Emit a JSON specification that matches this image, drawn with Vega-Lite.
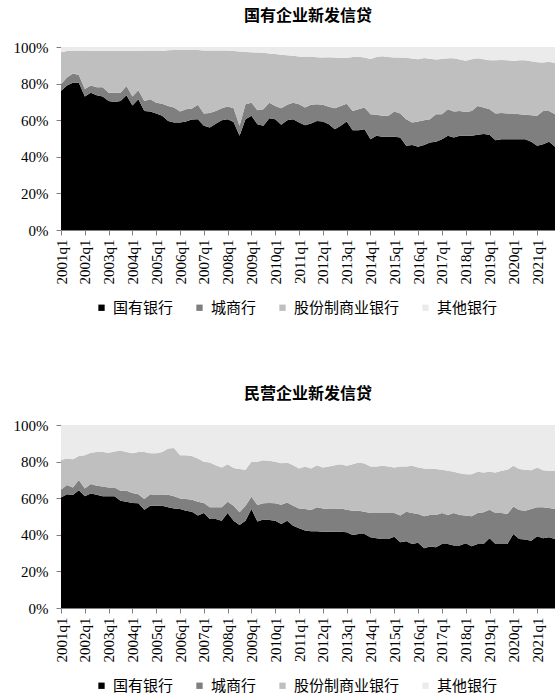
{
  "$schema": "https://vega.github.io/schema/vega-lite/v6.json",
  "padding": {"left": 13, "top": 8, "right": 0, "bottom": 0},
  "spacing": 70,
  "config": {
    "view": {"stroke": null},
    "font": "Liberation Serif",
    "axis": {"labelFont": "Liberation Serif", "labelFontSize": 15, "labelColor": "#000000", "domainColor": "#7f7f7f", "tickColor": "#7f7f7f", "tickSize": 5, "grid": false, "title": null}
  },
  "datasets": {
    "soe": [
      {"q":"2001q1","国有银行":76,"城商行":3.6,"股份制商业银行":17.4,"其他银行":3},
      {"q":"2001q2","国有银行":79,"城商行":4.3,"股份制商业银行":14.5,"其他银行":2.2},
      {"q":"2001q3","国有银行":80.5,"城商行":5,"股份制商业银行":12.3,"其他银行":2.2},
      {"q":"2001q4","国有银行":80.5,"城商行":4.2,"股份制商业银行":13.1,"其他银行":2.2},
      {"q":"2002q1","国有银行":73,"城商行":4,"股份制商业银行":20.8,"其他银行":2.2},
      {"q":"2002q2","国有银行":75,"城商行":4,"股份制商业银行":18.8,"其他银行":2.2},
      {"q":"2002q3","国有银行":73.6,"城商行":4.4,"股份制商业银行":20,"其他银行":2},
      {"q":"2002q4","国有银行":73,"城商行":5,"股份制商业银行":20,"其他银行":2},
      {"q":"2003q1","国有银行":70.5,"城商行":4.5,"股份制商业银行":23,"其他银行":2},
      {"q":"2003q2","国有银行":70,"城商行":5,"股份制商业银行":23,"其他银行":2},
      {"q":"2003q3","国有银行":70.5,"城商行":4.5,"股份制商业银行":23,"其他银行":2},
      {"q":"2003q4","国有银行":73.6,"城商行":5.1,"股份制商业银行":19.3,"其他银行":2},
      {"q":"2004q1","国有银行":68,"城商行":5,"股份制商业银行":25,"其他银行":2},
      {"q":"2004q2","国有银行":71.5,"城商行":4.9,"股份制商业银行":21.4,"其他银行":2.2},
      {"q":"2004q3","国有银行":65,"城商行":5.5,"股份制商业银行":27.3,"其他银行":2.2},
      {"q":"2004q4","国有银行":64.7,"城商行":6.8,"股份制商业银行":26.3,"其他银行":2.2},
      {"q":"2005q1","国有银行":63.6,"城商行":6,"股份制商业银行":28.2,"其他银行":2.2},
      {"q":"2005q2","国有银行":62.4,"城商行":6.6,"股份制商业银行":28.8,"其他银行":2.2},
      {"q":"2005q3","国有银行":59.6,"城商行":8.2,"股份制商业银行":30.4,"其他银行":1.8},
      {"q":"2005q4","国有银行":58.7,"城商行":8.3,"股份制商业银行":31.3,"其他银行":1.7},
      {"q":"2006q1","国有银行":58.7,"城商行":6,"股份制商业银行":33.6,"其他银行":1.7},
      {"q":"2006q2","国有银行":59.3,"城商行":6.7,"股份制商业银行":32.3,"其他银行":1.7},
      {"q":"2006q3","国有银行":60.4,"城商行":6,"股份制商业银行":31.9,"其他银行":1.7},
      {"q":"2006q4","国有银行":60.5,"城商行":7.9,"股份制商业银行":29.9,"其他银行":1.7},
      {"q":"2007q1","国有银行":57,"城商行":6.6,"股份制商业银行":34.5,"其他银行":1.9},
      {"q":"2007q2","国有银行":56,"城商行":8,"股份制商业银行":34.1,"其他银行":1.9},
      {"q":"2007q3","国有银行":58,"城商行":7,"股份制商业银行":33.1,"其他银行":1.9},
      {"q":"2007q4","国有银行":60,"城商行":6.5,"股份制商业银行":31.6,"其他银行":1.9},
      {"q":"2008q1","国有银行":60.5,"城商行":7,"股份制商业银行":30.6,"其他银行":1.9},
      {"q":"2008q2","国有银行":59,"城商行":7.5,"股份制商业银行":31.3,"其他银行":2.2},
      {"q":"2008q3","国有银行":51.5,"城商行":5.5,"股份制商业银行":40.5,"其他银行":2.5},
      {"q":"2008q4","国有银行":60.5,"城商行":8.2,"股份制商业银行":28.6,"其他银行":2.7},
      {"q":"2009q1","国有银行":62.4,"城商行":7.2,"股份制商业银行":27.5,"其他银行":2.9},
      {"q":"2009q2","国有银行":57.8,"城商行":7.7,"股份制商业银行":31.5,"其他银行":3},
      {"q":"2009q3","国有银行":57,"城商行":9,"股份制商业银行":30.8,"其他银行":3.2},
      {"q":"2009q4","国有银行":61,"城商行":8.6,"股份制商业银行":26.8,"其他银行":3.6},
      {"q":"2010q1","国有银行":60.5,"城商行":7.3,"股份制商业银行":28.4,"其他银行":3.8},
      {"q":"2010q2","国有银行":57.5,"城商行":9,"股份制商业银行":29.3,"其他银行":4.2},
      {"q":"2010q3","国有银行":60,"城商行":8.4,"股份制商业银行":27.1,"其他银行":4.5},
      {"q":"2010q4","国有银行":60.5,"城商行":9.1,"股份制商业银行":25.6,"其他银行":4.8},
      {"q":"2011q1","国有银行":58.7,"城商行":10,"股份制商业银行":26.1,"其他银行":5.2},
      {"q":"2011q2","国有银行":57.3,"城商行":9.7,"股份制商业银行":27.6,"其他银行":5.4},
      {"q":"2011q3","国有银行":58.2,"城商行":10.2,"股份制商业银行":26.4,"其他银行":5.2},
      {"q":"2011q4","国有银行":59.6,"城商行":9.1,"股份制商业银行":25.7,"其他银行":5.6},
      {"q":"2012q1","国有银行":59.3,"城商行":9.1,"股份制商业银行":25.9,"其他银行":5.7},
      {"q":"2012q2","国有银行":57.8,"城商行":9.5,"股份制商业银行":27.1,"其他银行":5.6},
      {"q":"2012q3","国有银行":55,"城商行":11.5,"股份制商业银行":27.8,"其他银行":5.7},
      {"q":"2012q4","国有银行":57,"城商行":10.8,"股份制商业银行":26.3,"其他银行":5.9},
      {"q":"2013q1","国有银行":59.3,"城商行":9.7,"股份制商业银行":25,"其他银行":6},
      {"q":"2013q2","国有银行":54.5,"城商行":10.5,"股份制商业银行":29.5,"其他银行":5.5},
      {"q":"2013q3","国有银行":54.5,"城商行":11.5,"股份制商业银行":28.7,"其他银行":5.3},
      {"q":"2013q4","国有银行":55,"城商行":12,"股份制商业银行":27.3,"其他银行":5.7},
      {"q":"2014q1","国有银行":49.6,"城商行":13.7,"股份制商业银行":30.2,"其他银行":6.5},
      {"q":"2014q2","国有银行":51.5,"城商行":11.5,"股份制商业银行":31.6,"其他银行":5.4},
      {"q":"2014q3","国有银行":51,"城商行":11.4,"股份制商业银行":32.6,"其他银行":5},
      {"q":"2014q4","国有银行":51,"城商行":11.4,"股份制商业银行":32.2,"其他银行":5.4},
      {"q":"2015q1","国有银行":51,"城商行":13.7,"股份制商业银行":29.6,"其他银行":5.7},
      {"q":"2015q2","国有银行":50.5,"城商行":13.1,"股份制商业银行":30.7,"其他银行":5.7},
      {"q":"2015q3","国有银行":46,"城商行":14.5,"股份制商业银行":33.6,"其他银行":5.9},
      {"q":"2015q4","国有银行":46.5,"城商行":12.2,"股份制商业银行":35,"其他银行":6.3},
      {"q":"2016q1","国有银行":45.5,"城商行":13.8,"股份制商业银行":34,"其他银行":6.7},
      {"q":"2016q2","国有银行":46.5,"城商行":13.5,"股份制商业银行":34,"其他银行":6},
      {"q":"2016q3","国有银行":47.8,"城商行":12.7,"股份制商业银行":33.1,"其他银行":6.4},
      {"q":"2016q4","国有银行":48.2,"城商行":15.1,"股份制商业银行":29.9,"其他银行":6.8},
      {"q":"2017q1","国有银行":49.6,"城商行":13.7,"股份制商业银行":30.1,"其他银行":6.6},
      {"q":"2017q2","国有银行":51.5,"城商行":14.5,"股份制商业银行":27.9,"其他银行":6.1},
      {"q":"2017q3","国有银行":50.5,"城商行":14.2,"股份制商业银行":29.1,"其他银行":6.2},
      {"q":"2017q4","国有银行":51.5,"城商行":13.5,"股份制商业银行":28.2,"其他银行":6.8},
      {"q":"2018q1","国有银行":51.5,"城商行":13,"股份制商业银行":28,"其他银行":7.5},
      {"q":"2018q2","国有银行":51.5,"城商行":13.5,"股份制商业银行":28.3,"其他银行":6.7},
      {"q":"2018q3","国有银行":52,"城商行":15.8,"股份制商业银行":26,"其他银行":6.2},
      {"q":"2018q4","国有银行":52.4,"城商行":14.6,"股份制商业银行":26.3,"其他银行":6.7},
      {"q":"2019q1","国有银行":52,"城商行":14,"股份制商业银行":26.8,"其他银行":7.2},
      {"q":"2019q2","国有银行":49,"城商行":14.6,"股份制商业银行":29.1,"其他银行":7.3},
      {"q":"2019q3","国有银行":49.6,"城商行":14.4,"股份制商业银行":28.9,"其他银行":7.1},
      {"q":"2019q4","国有银行":49.6,"城商行":14,"股份制商业银行":29.2,"其他银行":7.2},
      {"q":"2020q1","国有银行":49.6,"城商行":14,"股份制商业银行":28.8,"其他银行":7.6},
      {"q":"2020q2","国有银行":49.6,"城商行":13.7,"股份制商业银行":29.4,"其他银行":7.3},
      {"q":"2020q3","国有银行":49.6,"城商行":13.4,"股份制商业银行":29.8,"其他银行":7.2},
      {"q":"2020q4","国有银行":48.2,"城商行":14.5,"股份制商业银行":29.5,"其他银行":7.8},
      {"q":"2021q1","国有银行":46,"城商行":16.4,"股份制商业银行":29.3,"其他银行":8.3},
      {"q":"2021q2","国有银行":46.9,"城商行":18.1,"股份制商业银行":26.5,"其他银行":8.5},
      {"q":"2021q3","国有银行":48.2,"城商行":16.8,"股份制商业银行":26.9,"其他银行":8.1},
      {"q":"2021q4","国有银行":45.5,"城商行":17.8,"股份制商业银行":28,"其他银行":8.7}
    ],
    "pe": [
      {"q":"2001q1","国有银行":60.4,"城商行":4.2,"股份制商业银行":16.3,"其他银行":19.1},
      {"q":"2001q2","国有银行":62.2,"城商行":5,"股份制商业银行":14.5,"其他银行":18.3},
      {"q":"2001q3","国有银行":61.7,"城商行":4.2,"股份制商业银行":15.4,"其他银行":18.7},
      {"q":"2001q4","国有银行":64.4,"城商行":5.5,"股份制商业银行":13.2,"其他银行":16.9},
      {"q":"2002q1","国有银行":61,"城商行":4.3,"股份制商业银行":18.2,"其他银行":16.5},
      {"q":"2002q2","国有银行":62.6,"城商行":5.1,"股份制商业银行":17.2,"其他银行":15.1},
      {"q":"2002q3","国有银行":61.9,"城商行":4.9,"股份制商业银行":18.5,"其他银行":14.7},
      {"q":"2002q4","国有银行":61,"城商行":5.4,"股份制商业银行":18.9,"其他银行":14.7},
      {"q":"2003q1","国有银行":61,"城商行":4.9,"股份制商业银行":19,"其他银行":15.1},
      {"q":"2003q2","国有银行":61,"城商行":4.9,"股份制商业银行":19.6,"其他银行":14.5},
      {"q":"2003q3","国有银行":58.6,"城商行":5.5,"股份制商业银行":21.9,"其他银行":14},
      {"q":"2003q4","国有银行":58,"城商行":6.1,"股份制商业银行":21.2,"其他银行":14.7},
      {"q":"2004q1","国有银行":57.4,"城商行":5.4,"股份制商业银行":21.8,"其他银行":15.4},
      {"q":"2004q2","国有银行":57.2,"城商行":5,"股份制商业银行":23.1,"其他银行":14.7},
      {"q":"2004q3","国有银行":53.7,"城商行":5.8,"股份制商业银行":25.8,"其他银行":14.7},
      {"q":"2004q4","国有银行":55.9,"城商行":6.3,"股份制商业银行":22.4,"其他银行":15.4},
      {"q":"2005q1","国有银行":55.9,"城商行":5.8,"股份制商业银行":22.9,"其他银行":15.4},
      {"q":"2005q2","国有银行":55.9,"城商行":5.8,"股份制商业银行":23.6,"其他银行":14.7},
      {"q":"2005q3","国有银行":55,"城商行":6.9,"股份制商业银行":25.2,"其他银行":12.9},
      {"q":"2005q4","国有银行":54.4,"城商行":6.6,"股份制商业银行":26.5,"其他银行":12.5},
      {"q":"2006q1","国有银行":54.1,"城商行":5.8,"股份制商业银行":23.6,"其他银行":16.5},
      {"q":"2006q2","国有银行":53.2,"城商行":6.3,"股份制商业银行":24,"其他银行":16.5},
      {"q":"2006q3","国有银行":52.6,"城商行":6.6,"股份制商业银行":23.9,"其他银行":16.9},
      {"q":"2006q4","国有银行":50.5,"城商行":7.6,"股份制商业银行":23.6,"其他银行":18.3},
      {"q":"2007q1","国有银行":51.9,"城商行":5.5,"股份制商业银行":22.5,"其他银行":20.1},
      {"q":"2007q2","国有银行":48.6,"城商行":6.4,"股份制商业银行":24.5,"其他银行":20.5},
      {"q":"2007q3","国有银行":48.6,"城商行":6.4,"股份制商业银行":23,"其他银行":22},
      {"q":"2007q4","国有银行":47.7,"城商行":7.3,"股份制商业银行":21.8,"其他银行":23.2},
      {"q":"2008q1","国有银行":51.9,"城商行":6.2,"股份制商业银行":20.5,"其他银行":21.4},
      {"q":"2008q2","国有银行":47.7,"城商行":8.2,"股份制商业银行":20.6,"其他银行":23.5},
      {"q":"2008q3","国有银行":45.4,"城商行":6.9,"股份制商业银行":23.6,"其他银行":24.1},
      {"q":"2008q4","国有银行":47.7,"城商行":8.2,"股份制商业银行":19.6,"其他银行":24.5},
      {"q":"2009q1","国有银行":54.1,"城商行":6.7,"股份制商业银行":19.1,"其他银行":20.1},
      {"q":"2009q2","国有银行":47.2,"城商行":9.1,"股份制商业银行":23.6,"其他银行":20.1},
      {"q":"2009q3","国有银行":48.3,"城商行":8.9,"股份制商业银行":23.6,"其他银行":19.2},
      {"q":"2009q4","国有银行":48.1,"城商行":9.3,"股份制商业银行":23,"其他银行":19.6},
      {"q":"2010q1","国有银行":47.7,"城商行":9.5,"股份制商业银行":22.7,"其他银行":20.1},
      {"q":"2010q2","国有银行":45.9,"城商行":10.5,"股份制商业银行":22.7,"其他银行":20.9},
      {"q":"2010q3","国有银行":47.7,"城商行":10,"股份制商业银行":21.8,"其他银行":20.5},
      {"q":"2010q4","国有银行":45,"城商行":10.9,"股份制商业银行":22.1,"其他银行":22},
      {"q":"2011q1","国有银行":43.6,"城商行":10.8,"股份制商业银行":21.8,"其他银行":23.8},
      {"q":"2011q2","国有银行":42.3,"城商行":11.8,"股份制商业银行":23.2,"其他银行":22.7},
      {"q":"2011q3","国有银行":41.9,"城商行":11.6,"股份制商业银行":22.7,"其他银行":23.8},
      {"q":"2011q4","国有银行":41.9,"城商行":13.1,"股份制商业银行":23,"其他银行":22},
      {"q":"2012q1","国有银行":41.7,"城商行":12.7,"股份制商业银行":22.4,"其他银行":23.2},
      {"q":"2012q2","国有银行":41.7,"城商行":12.4,"股份制商业银行":23.2,"其他银行":22.7},
      {"q":"2012q3","国有银行":41.7,"城商行":12.4,"股份制商业银行":23.9,"其他银行":22},
      {"q":"2012q4","国有银行":41.7,"城商行":12.7,"股份制商业银行":24.2,"其他银行":21.4},
      {"q":"2013q1","国有银行":41.4,"城商行":12.3,"股份制商业银行":24,"其他银行":22.3},
      {"q":"2013q2","国有银行":39.9,"城商行":13.3,"股份制商业银行":25.4,"其他银行":21.4},
      {"q":"2013q3","国有银行":40.5,"城商行":12.7,"股份制商业银行":26.3,"其他银行":20.5},
      {"q":"2013q4","国有银行":40.5,"城商行":12.1,"股份制商业银行":26.3,"其他银行":21.1},
      {"q":"2014q1","国有银行":38.7,"城商行":13.2,"股份制商业银行":25.4,"其他银行":22.7},
      {"q":"2014q2","国有银行":38.1,"城商行":13.8,"股份制商业银行":25.4,"其他银行":22.7},
      {"q":"2014q3","国有银行":37.7,"城商行":14.2,"股份制商业银行":25.8,"其他银行":22.3},
      {"q":"2014q4","国有银行":37.7,"城商行":14.2,"股份制商业银行":25.4,"其他银行":22.7},
      {"q":"2015q1","国有银行":39,"城商行":12.9,"股份制商业银行":24.9,"其他银行":23.2},
      {"q":"2015q2","国有银行":35.9,"城商行":14.6,"股份制商业银行":26.8,"其他银行":22.7},
      {"q":"2015q3","国有银行":36.5,"城商行":16.1,"股份制商业银行":24.7,"其他银行":22.7},
      {"q":"2015q4","国有银行":35,"城商行":16.9,"股份制商业银行":25.8,"其他银行":22.3},
      {"q":"2016q1","国有银行":35.6,"城商行":15.8,"股份制商业银行":25.4,"其他银行":23.2},
      {"q":"2016q2","国有银行":32.7,"城商行":17.4,"股份制商业银行":26.1,"其他银行":23.8},
      {"q":"2016q3","国有银行":33.6,"城商行":17.2,"股份制商业银行":25.1,"其他银行":24.1},
      {"q":"2016q4","国有银行":33.2,"城商行":17.6,"股份制商业银行":25.1,"其他银行":24.1},
      {"q":"2017q1","国有银行":35,"城商行":16.9,"股份制商业银行":23.6,"其他银行":24.5},
      {"q":"2017q2","国有银行":35,"城商行":15.8,"股份制商业银行":24.2,"其他银行":25},
      {"q":"2017q3","国有银行":34.1,"城商行":17.8,"股份制商业银行":22.5,"其他银行":25.6},
      {"q":"2017q4","国有银行":34.1,"城商行":16.7,"股份制商业银行":22.9,"其他银行":26.3},
      {"q":"2018q1","国有银行":35.4,"城商行":15.1,"股份制商业银行":22.6,"其他银行":26.9},
      {"q":"2018q2","国有银行":33.8,"城商行":16.3,"股份制商业银行":23,"其他银行":26.9},
      {"q":"2018q3","国有银行":35,"城商行":16.9,"股份制商业银行":22.5,"其他银行":25.6},
      {"q":"2018q4","国有银行":35,"城商行":17.3,"股份制商业银行":21.7,"其他银行":26},
      {"q":"2019q1","国有银行":38.1,"城商行":15.6,"股份制商业银行":20.7,"其他银行":25.6},
      {"q":"2019q2","国有银行":35,"城商行":16.9,"股份制商业银行":22.1,"其他银行":26},
      {"q":"2019q3","国有银行":35,"城商行":16.9,"股份制商业银行":23.1,"其他银行":25},
      {"q":"2019q4","国有银行":35,"城商行":16.4,"股份制商业银行":24.1,"其他银行":24.5},
      {"q":"2020q1","国有银行":40.5,"城商行":14.9,"股份制商业银行":22.3,"其他银行":22.3},
      {"q":"2020q2","国有银行":37.7,"城商行":15.8,"股份制商业银行":22.4,"其他银行":24.1},
      {"q":"2020q3","国有银行":37.4,"城商行":15.8,"股份制商业银行":22.3,"其他银行":24.5},
      {"q":"2020q4","国有银行":36.8,"城商行":17.3,"股份制商业银行":21.2,"其他银行":24.7},
      {"q":"2021q1","国有银行":39.2,"城商行":15.8,"股份制商业银行":21.8,"其他银行":23.2},
      {"q":"2021q2","国有银行":38.1,"城商行":16.9,"股份制商业银行":20.3,"其他银行":24.7},
      {"q":"2021q3","国有银行":38.7,"城商行":15.9,"股份制商业银行":20.4,"其他银行":25},
      {"q":"2021q4","国有银行":37.7,"城商行":16.4,"股份制商业银行":20.9,"其他银行":25}
    ]
  },
  "resolve": {"scale": {"color": "independent"}, "legend": {"color": "independent"}},
  "vconcat": [
    {
      "title": {"text": "国有企业新发信贷", "font": "Noto Sans CJK SC", "fontSize": 16, "fontWeight": "bold", "anchor": "middle", "offset": 16, "color": "#000000"},
      "width": 494,
      "height": 183,
      "data": {"name": "soe"},
      "transform": [
        {"fold": ["国有银行", "城商行", "股份制商业银行", "其他银行"], "as": ["bank", "share"]},
        {"calculate": "indexof(['国有银行', '城商行', '股份制商业银行', '其他银行'], datum.bank)", "as": "stackRank"}
      ],
      "mark": {"type": "area", "interpolate": "linear"},
      "encoding": {
        "x": {"field": "q", "type": "ordinal", "scale": {"type": "point", "padding": 0},
              "axis": {"values": ["2001q1","2002q1","2003q1","2004q1","2005q1","2006q1","2007q1","2008q1","2009q1","2010q1","2011q1","2012q1","2013q1","2014q1","2015q1","2016q1","2017q1","2018q1","2019q1","2020q1","2021q1"],
                       "labelAngle": 270, "labelAlign": "right", "labelBaseline": "middle", "labelPadding": 4}},
        "y": {"field": "share", "type": "quantitative", "stack": "zero", "scale": {"domain": [0, 100], "nice": false},
              "axis": {"values": [0, 20, 40, 60, 80, 100], "labelExpr": "datum.value + '%'", "labelPadding": 8}},
        "order": {"field": "stackRank", "type": "quantitative", "sort": "ascending"},
        "color": {"field": "bank", "type": "nominal",
                  "sort": ["国有银行", "城商行", "股份制商业银行", "其他银行"],
                  "scale": {"domain": ["国有银行", "城商行", "股份制商业银行", "其他银行"], "range": ["#000000", "#7f7f7f", "#bfbfbf", "#ebebeb"]},
                  "legend": {"orient": "none", "legendX": 33, "legendY": 253, "direction": "horizontal", "title": null, "symbolType": "square", "symbolSize": 40, "symbolStrokeWidth": 0, "labelFont": "Noto Sans CJK SC", "labelFontSize": 15, "labelColor": "#000000", "labelOffset": 4, "columnPadding": 18}}
      }
    },
    {
      "title": {"text": "民营企业新发信贷", "font": "Noto Sans CJK SC", "fontSize": 16, "fontWeight": "bold", "anchor": "middle", "offset": 16, "color": "#000000"},
      "width": 494,
      "height": 183,
      "data": {"name": "pe"},
      "transform": [
        {"fold": ["国有银行", "城商行", "股份制商业银行", "其他银行"], "as": ["bank", "share"]},
        {"calculate": "indexof(['国有银行', '城商行', '股份制商业银行', '其他银行'], datum.bank)", "as": "stackRank"}
      ],
      "mark": {"type": "area", "interpolate": "linear"},
      "encoding": {
        "x": {"field": "q", "type": "ordinal", "scale": {"type": "point", "padding": 0},
              "axis": {"values": ["2001q1","2002q1","2003q1","2004q1","2005q1","2006q1","2007q1","2008q1","2009q1","2010q1","2011q1","2012q1","2013q1","2014q1","2015q1","2016q1","2017q1","2018q1","2019q1","2020q1","2021q1"],
                       "labelAngle": 270, "labelAlign": "right", "labelBaseline": "middle", "labelPadding": 4}},
        "y": {"field": "share", "type": "quantitative", "stack": "zero", "scale": {"domain": [0, 100], "nice": false},
              "axis": {"values": [0, 20, 40, 60, 80, 100], "labelExpr": "datum.value + '%'", "labelPadding": 8}},
        "order": {"field": "stackRank", "type": "quantitative", "sort": "ascending"},
        "color": {"field": "bank", "type": "nominal",
                  "sort": ["国有银行", "城商行", "股份制商业银行", "其他银行"],
                  "scale": {"domain": ["国有银行", "城商行", "股份制商业银行", "其他银行"], "range": ["#000000", "#7f7f7f", "#bfbfbf", "#ebebeb"]},
                  "legend": {"orient": "none", "legendX": 33, "legendY": 253, "direction": "horizontal", "title": null, "symbolType": "square", "symbolSize": 40, "symbolStrokeWidth": 0, "labelFont": "Noto Sans CJK SC", "labelFontSize": 15, "labelColor": "#000000", "labelOffset": 4, "columnPadding": 18}}
      }
    }
  ]
}
